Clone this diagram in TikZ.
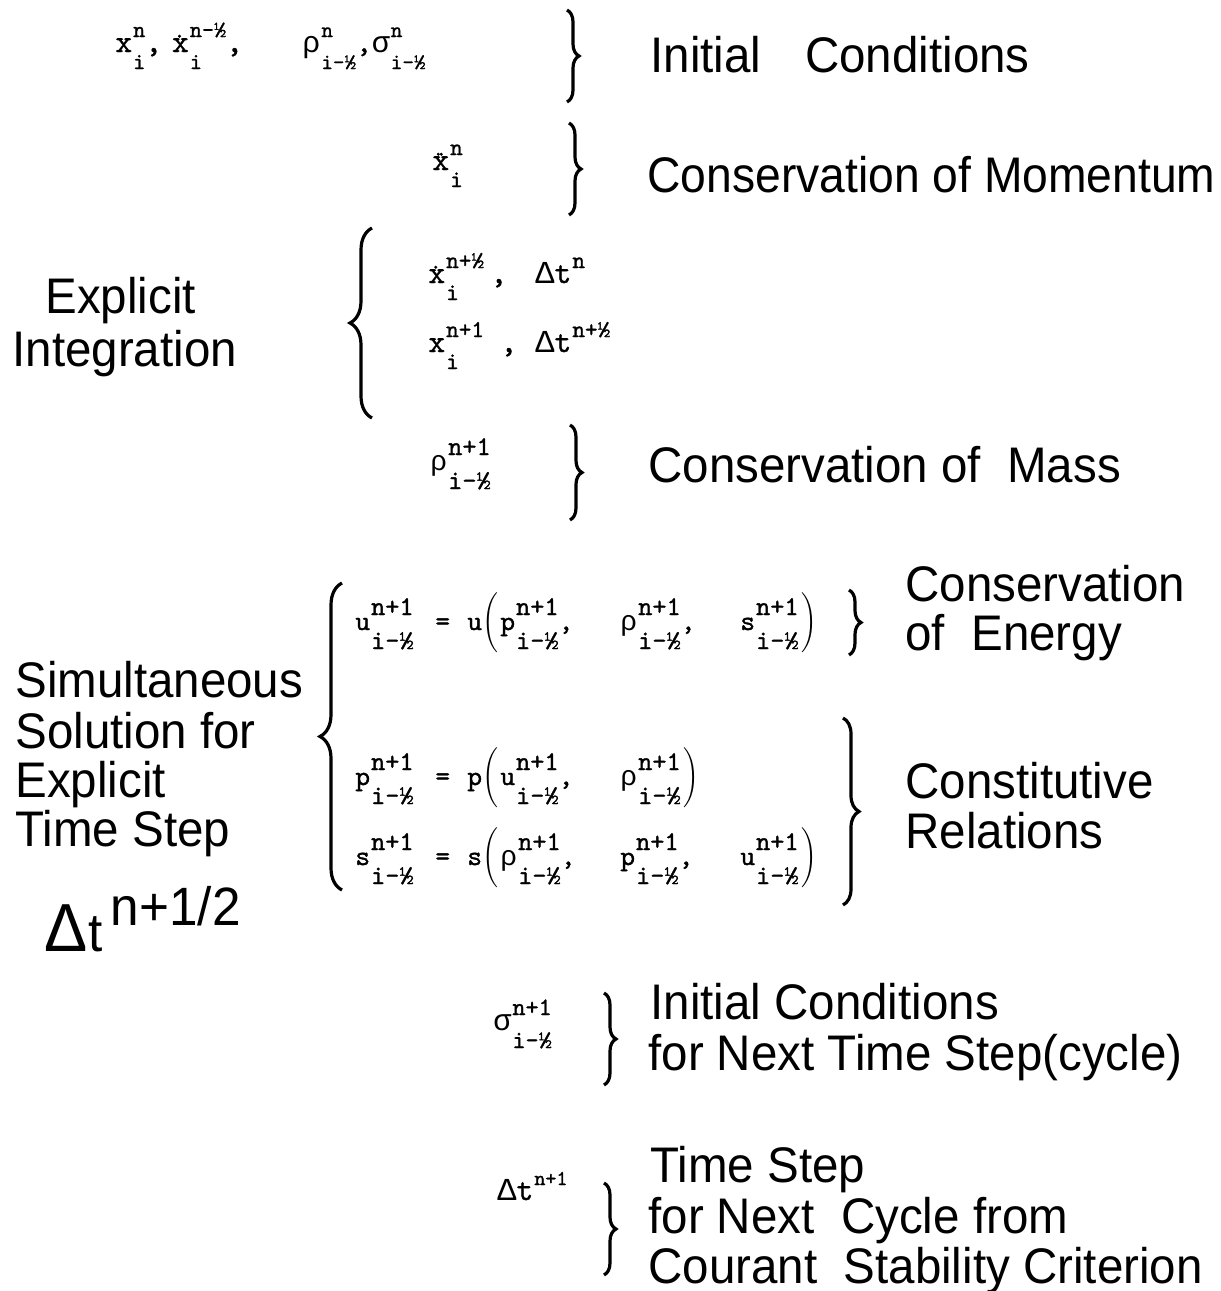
\documentclass[tikz,border=0pt]{standalone}
\usepackage{fontspec}
\setmainfont{Liberation Sans}
\newfontfamily\lab[FakeStretch=0.95]{Liberation Sans}
\newfontfamily\labc[FakeStretch=0.925]{Liberation Sans}
\newfontfamily\gk{Liberation Mono}
\newfontfamily\tfam{lmmono10-regular.otf}[FakeBold=1.2]
\usetikzlibrary{decorations.pathreplacing}
\newcommand\scsz{11}
\newcommand\supr{7pt}
\newcommand\subl{8pt}
\newcommand\mt{\fontsize{14}{14}\selectfont\tfam}
\newcommand\st{\fontsize{\scsz}{\scsz}\selectfont\tfam}
\newsavebox\supbox
\newsavebox\subbox
\newlength\sulen
\newcommand\SU[3]{#1\kern.5pt\sbox\supbox{\st #2}\sbox\subbox{\st #3}%
  \setlength\sulen{\wd\supbox}\ifdim\wd\subbox>\sulen\setlength\sulen{\wd\subbox}\fi
  \hbox to\sulen{\rlap{\raise\supr\copy\supbox}\lower\subl\copy\subbox\hss}}
\newcommand\rh{{\gk ρ}}
\newcommand\sg{{\gk σ}}
\newcommand\Dt{{\gk Δ}t}
\newcommand\xd{\ooalign{x\cr\hidewidth\raise7.2pt\hbox{\fontsize{11}{11}\selectfont\tfam .}\kern1pt\hidewidth\cr}}
\newcommand\xdd{\ooalign{x\cr\hidewidth\raise7.2pt\hbox{\fontsize{11}{11}\selectfont\tfam .\kern-4.3pt.}\kern1pt\hidewidth\cr}}
\newcommand\LP{\ensuremath{\left(\vrule height 10.5pt depth 11.5pt width 0pt\right.}}
\newcommand\RP{\ensuremath{\left.\vrule height 10.5pt depth 11.5pt width 0pt\right)}}
\begin{document}
\begin{tikzpicture}[x=0.5pt,y=-0.5pt,
  lbl/.style={anchor=base west, inner sep=0pt, font=\lab\fontsize{25}{25}\selectfont},
  mth/.style={anchor=base west, inner sep=0pt, font=\mt},
  mbig/.style={anchor=base west, inner sep=0pt, font={\def\scsz{12}\def\supr{7.5pt}\def\subl{8.5pt}\fontsize{16}{16}\selectfont\tfam}},
  meq/.style={anchor=base west, inner sep=0pt, font={\def\scsz{13.5}\def\supr{7.5pt}\def\subl{9.5pt}\mt}},
  rb/.style={decorate, decoration={brace,amplitude=6pt}, line width=1.6pt},
  lb/.style={decorate, decoration={brace,amplitude=11pt}, line width=1.6pt}]
\useasboundingbox (0,0) rectangle (1221,1291);
% ---------- row 1: initial conditions
\node[mbig,font={\def\scsz{11.5}\def\supr{7.5pt}\def\subl{8.5pt}\fontsize{16}{16}\selectfont\tfam}] (m1a) at (115,52) {\SU{x}{n}{i},\kern5pt\SU{\xd}{n-½}{i},};
\node[mbig,font={\def\scsz{11}\def\supr{7.5pt}\def\subl{8.5pt}\fontsize{15}{15}\selectfont\tfam}] (m1b) at (302,52) {\SU{\rh}{n}{i-½},\kern0pt\SU{\sg}{n}{i-½}};
\coordinate (b1t) at (567,10); \coordinate (b1b) at (567,102);
\draw[rb] (b1t) -- (b1b);
\node[lbl] (l1) at (650,72) {Initial\hspace{22pt}Conditions};
% ---------- row 2: momentum
\node[mbig] (m2) at (432,170) {\SU{\xdd}{n}{i}};
\coordinate (b2t) at (569,123); \coordinate (b2b) at (569,215);
\draw[rb] (b2t) -- (b2b);
\node[lbl,font=\labc\fontsize{25}{25}\selectfont] (l2) at (647,192) {Conservation of Momentum};
% ---------- explicit integration
\node[lbl] (l3a) at (45,313) {Explicit};
\node[lbl] (l3b) at (12,366) {Integration};
\coordinate (b3t) at (372,228); \coordinate (b3b) at (372,418);
\draw[lb] (b3b) -- (b3t);
\node[mbig] (m3) at (428,283) {\makebox[53.5pt][l]{\makebox[31pt][l]{\SU{\xd}{n+½}{i}},}\SU{\Dt}{n}{}};
\node[mbig] (m4) at (428,352) {\makebox[53.5pt][l]{\makebox[36pt][l]{\SU{x}{n+1}{i}},}\SU{\Dt}{n+½}{}};
% ---------- mass
\node[meq] (m5) at (430,470) {\SU{\rh}{n+1}{i-½}};
\coordinate (b4t) at (570,425); \coordinate (b4b) at (570,520);
\draw[rb] (b4t) -- (b4b);
\node[lbl] (l4) at (648,482) {Conservation of\ \ Mass};
% ---------- simultaneous solution
\node[lbl] (l6a) at (15,697) {Simultaneous};
\node[lbl] (l6b) at (15,748) {Solution for};
\node[lbl] (l6c) at (15,797) {Explicit};
\node[lbl] (l6d) at (15,846) {Time Step};
\node[lbl] (l7) at (44,951) {{\fontsize{34}{34}\selectfont Δ}\kern.5pt{\fontsize{27}{27}\selectfont t}\kern4pt\raise13pt\hbox{\fontsize{27}{27}\selectfont n+1/2}};
\coordinate (b5t) at (342,583); \coordinate (b5b) at (342,890);
\draw[lb] (b5b) -- (b5t);
\node[meq] (m6) at (355,630) {\makebox[40pt][l]{\SU{u}{n+1}{i-½}}\makebox[16pt][l]{=}\makebox[16.5pt][l]{u\LP}\makebox[60pt][l]{\SU{p}{n+1}{i-½},}\makebox[60pt][l]{\SU{\rh}{n+1}{i-½},}\SU{s}{n+1}{i-½}\RP};
\coordinate (b6t) at (849,590); \coordinate (b6b) at (849,655);
\draw[rb] (b6t) -- (b6b);
\node[lbl] (l5a) at (905,601) {Conservation};
\node[lbl] (l5b) at (905,650) {of\ \ Energy};
\node[meq] (m7) at (355,785) {\makebox[40pt][l]{\SU{p}{n+1}{i-½}}\makebox[16pt][l]{=}\makebox[16.5pt][l]{p\LP}\makebox[60pt][l]{\SU{u}{n+1}{i-½},}\SU{\rh}{n+1}{i-½}\RP};
\node[meq] (m8) at (355,865) {\makebox[40pt][l]{\SU{s}{n+1}{i-½}}\makebox[16pt][l]{=}\makebox[16.5pt][l]{s\LP}\makebox[60pt][l]{\SU{\rh}{n+1}{i-½},}\makebox[60pt][l]{\SU{p}{n+1}{i-½},}\SU{u}{n+1}{i-½}\RP};
\coordinate (b7t) at (843,718); \coordinate (b7b) at (843,905);
\draw[rb,decoration={amplitude=8pt}] (b7t) -- (b7b);
\node[lbl] (l8a) at (905,798) {Constitutive};
\node[lbl] (l8b) at (905,848) {Relations};
% ---------- next cycle
\node[meq,font={\def\scsz{12.5}\def\supr{7.5pt}\def\subl{9pt}\fontsize{15}{15}\selectfont\tfam}] (m9) at (493,1030) {\SU{\sg}{n+1}{i-½}};
\coordinate (b8t) at (604,993); \coordinate (b8b) at (604,1085);
\draw[rb] (b8t) -- (b8b);
\node[lbl] (l9a) at (650,1019) {Initial Conditions};
\node[lbl] (l9b) at (648,1070) {for Next Time Step(cycle)};
\node[mth,font={\def\scsz{10.5}\def\supr{7.5pt}\fontsize{16}{16}\selectfont\tfam}] (m10) at (497,1200) {\SU{\Dt}{n+1}{}};
\coordinate (b9t) at (604,1183); \coordinate (b9b) at (604,1275);
\draw[rb] (b9t) -- (b9b);
\node[lbl] (l10a) at (650,1182) {Time Step};
\node[lbl] (l10b) at (648,1233) {for Next\ \ Cycle from};
\node[lbl] (l10c) at (648,1283) {Courant\ \ Stability Criterion};
\end{tikzpicture}
\end{document}
